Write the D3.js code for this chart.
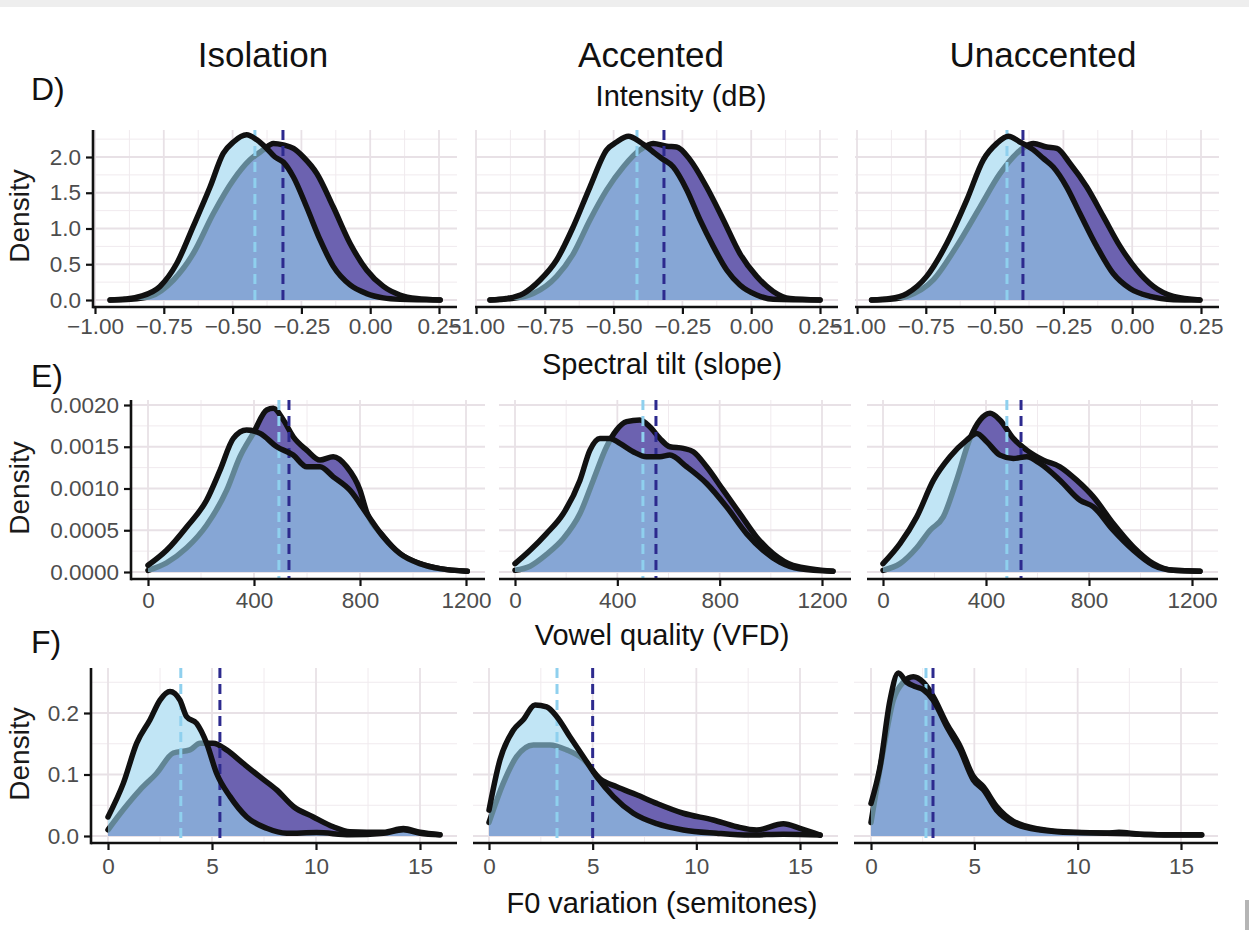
<!DOCTYPE html>
<html><head><meta charset="utf-8">
<script src="https://cdn.jsdelivr.net/npm/d3@7"></script>
<style>html,body{margin:0;padding:0;background:#fff;}svg{display:block;}</style>
</head><body>
<script>
// ---------- DATA ----------
const contexts = ["Isolation", "Accented", "Unaccented"];
const rowTags = ["D)", "E)", "F)"];
const rowTopTitles = ["Intensity (dB)", "Spectral tilt (slope)", "Vowel quality (VFD)"];
const bottomTitle = "F0 variation (semitones)";
const yTitle = "Density";

// Row D: spectral tilt densities (L = light group, P = purple group)
const tiltIsoL = [[-0.945,0],[-0.89,0.015],[-0.836,0.05],[-0.764,0.19],[-0.703,0.51],[-0.643,1.03],[-0.582,1.58],[-0.534,2.05],[-0.497,2.21],[-0.449,2.31],[-0.412,2.24],[-0.376,2.12],[-0.346,2.0],[-0.316,1.93],[-0.279,1.72],[-0.231,1.30],[-0.182,0.84],[-0.134,0.47],[-0.073,0.21],[-0.013,0.09],[0.048,0.03],[0.108,0.01],[0.254,0]];
const tiltIsoP = [[-0.945,0],[-0.87,0.01],[-0.8,0.05],[-0.715,0.28],[-0.643,0.65],[-0.57,1.21],[-0.497,1.68],[-0.437,1.96],[-0.388,2.10],[-0.352,2.19],[-0.316,2.17],[-0.279,2.12],[-0.243,2.0],[-0.194,1.77],[-0.134,1.30],[-0.073,0.79],[-0.013,0.42],[0.048,0.19],[0.108,0.07],[0.169,0.02],[0.254,0]];
const tiltAccL = [[-0.949,0],[-0.89,0.02],[-0.828,0.09],[-0.767,0.28],[-0.707,0.56],[-0.646,1.03],[-0.586,1.58],[-0.525,2.10],[-0.489,2.21],[-0.446,2.29],[-0.404,2.21],[-0.356,2.07],[-0.325,1.98],[-0.283,1.86],[-0.234,1.54],[-0.186,1.12],[-0.138,0.75],[-0.089,0.42],[-0.041,0.21],[0.02,0.07],[0.08,0.01],[0.25,0]];
const tiltAccP = [[-0.949,0],[-0.87,0.02],[-0.792,0.09],[-0.707,0.33],[-0.646,0.65],[-0.586,1.12],[-0.525,1.54],[-0.465,1.86],[-0.404,2.10],[-0.356,2.19],[-0.307,2.15],[-0.271,2.14],[-0.222,1.96],[-0.162,1.58],[-0.101,1.12],[-0.041,0.65],[0.02,0.33],[0.08,0.12],[0.141,0.02],[0.25,0]];
const tiltUnaccL = [[-0.947,0],[-0.88,0.02],[-0.819,0.09],[-0.747,0.33],[-0.674,0.79],[-0.601,1.40],[-0.541,1.96],[-0.492,2.19],[-0.45,2.29],[-0.408,2.21],[-0.359,2.10],[-0.323,1.98],[-0.287,1.86],[-0.238,1.58],[-0.19,1.21],[-0.129,0.75],[-0.069,0.37],[-0.008,0.16],[0.065,0.05],[0.15,0.005],[0.246,0]];
const tiltUnaccP = [[-0.947,0],[-0.88,0.01],[-0.819,0.05],[-0.723,0.28],[-0.638,0.75],[-0.553,1.30],[-0.48,1.77],[-0.42,2.05],[-0.359,2.19],[-0.311,2.14],[-0.274,2.12],[-0.226,1.91],[-0.165,1.58],[-0.105,1.17],[-0.044,0.75],[0.017,0.42],[0.077,0.19],[0.15,0.05],[0.246,0]];

// Row E: vowel formant distance densities
const vfdIsoL = [[0,0.00008],[70,0.00026],[146,0.00054],[221,0.00086],[272,0.00122],[322,0.0016],[372,0.0017],[423,0.00166],[486,0.0015],[548,0.0014],[599,0.00126],[649,0.00126],[699,0.00114],[762,0.00098],[825,0.0007],[888,0.00042],[951,0.00022],[1026,0.0001],[1102,0.00004],[1205,0.00001]];
const vfdIsoP = [[0,0.00002],[70,0.00011],[146,0.00029],[221,0.00056],[297,0.00098],[347,0.00138],[397,0.00166],[448,0.00194],[473,0.00196],[511,0.00182],[548,0.00162],[599,0.00146],[649,0.00134],[699,0.00138],[750,0.00126],[800,0.00098],[825,0.00072],[888,0.00043],[951,0.00022],[1026,0.0001],[1102,0.00004],[1205,0.00001]];
const vfdAccL = [[0,0.0001],[59,0.00026],[123,0.00046],[189,0.0007],[254,0.0011],[293,0.00146],[332,0.0016],[371,0.0016],[410,0.00154],[462,0.00144],[514,0.00138],[566,0.00138],[605,0.0014],[671,0.00126],[749,0.00106],[827,0.00078],[905,0.00046],[970,0.00026],[1035,0.00012],[1113,0.00004],[1243,0.00001]];
const vfdAccP = [[0,0.00002],[59,0.00007],[123,0.00021],[189,0.0004],[254,0.0007],[306,0.0011],[358,0.0015],[397,0.0017],[436,0.0018],[488,0.00182],[527,0.00174],[566,0.0016],[605,0.0015],[658,0.00148],[697,0.00144],[749,0.00126],[814,0.00098],[879,0.0007],[944,0.00042],[1009,0.00022],[1087,0.00008],[1243,0.00001]];
const vfdUnaccL = [[0,0.0001],[66,0.00034],[131,0.00066],[196,0.0011],[260,0.00138],[325,0.00158],[364,0.00166],[403,0.00156],[454,0.0014],[506,0.00136],[558,0.00138],[610,0.0013],[687,0.0011],[765,0.00086],[817,0.00078],[894,0.0005],[972,0.00026],[1050,0.00008],[1128,0.00002],[1231,0.00001]];
const vfdUnaccP = [[0,0.00002],[66,0.0001],[131,0.00029],[183,0.0005],[234,0.00066],[286,0.0011],[338,0.0016],[377,0.00182],[416,0.0019],[454,0.00182],[506,0.0016],[558,0.00146],[623,0.00134],[687,0.00126],[752,0.0011],[817,0.0009],[894,0.00058],[972,0.0003],[1050,0.0001],[1128,0.00002],[1231,0.00001]];

// Row F: F0 variation densities
const f0IsoL = [[0,0.031],[0.74,0.086],[1.38,0.151],[2.02,0.189],[2.5,0.221],[2.98,0.235],[3.46,0.221],[3.78,0.194],[4.26,0.183],[4.74,0.151],[5.22,0.102],[5.87,0.064],[6.67,0.031],[7.63,0.0125],[8.59,0.0045],[10.03,0.0055],[11.63,0.002],[13.24,0.0045],[14.2,0.01],[15.0,0.0045],[15.96,0.002]];
const f0IsoP = [[0,0.01],[0.74,0.043],[1.54,0.075],[2.34,0.102],[3.14,0.135],[3.94,0.14],[4.42,0.151],[5.06,0.151],[5.7,0.14],[6.5,0.118],[7.31,0.096],[8.11,0.075],[8.91,0.048],[9.87,0.031],[10.83,0.015],[11.63,0.007],[13.24,0.006],[14.2,0.012],[15.0,0.006],[15.96,0.002]];
const f0AccL = [[0,0.042],[0.53,0.124],[1.17,0.172],[1.65,0.189],[2.22,0.213],[2.78,0.21],[3.27,0.194],[3.91,0.161],[4.55,0.129],[5.2,0.096],[6.0,0.064],[6.96,0.037],[8.09,0.02],[9.37,0.0098],[10.98,0.0045],[12.59,0.0015],[14.2,0.003],[15.97,0.0015]];
const f0AccP = [[0,0.022],[0.69,0.086],[1.33,0.129],[2.14,0.148],[2.94,0.148],[3.75,0.14],[4.55,0.125],[5.36,0.093],[6.16,0.08],[7.12,0.067],[8.09,0.053],[9.37,0.037],[10.82,0.026],[11.95,0.015],[12.91,0.0098],[14.2,0.02],[15.0,0.0125],[15.97,0.0015]];
const f0UnaccL = [[0,0.053],[0.44,0.113],[0.92,0.221],[1.32,0.265],[1.73,0.25],[2.13,0.243],[2.53,0.238],[3.01,0.221],[3.66,0.178],[4.31,0.14],[4.95,0.091],[5.44,0.075],[6.08,0.042],[6.89,0.021],[8.18,0.0098],[9.79,0.0055],[11.4,0.0045],[13.01,0.003],[14.63,0.0015],[16,0.0015]];
const f0UnaccP = [[0,0.022],[0.6,0.14],[1.08,0.221],[1.56,0.25],[2.05,0.259],[2.53,0.25],[3.01,0.227],[3.66,0.183],[4.31,0.146],[4.95,0.097],[5.44,0.08],[6.08,0.048],[6.89,0.024],[8.18,0.011],[9.79,0.006],[11.4,0.005],[12.0,0.006],[13.01,0.003],[14.63,0.002],[16,0.002]];

// Group means (dashed lines), per context
const tiltMeansL = [-0.419, -0.415, -0.455];
const tiltMeansP = [-0.317, -0.317, -0.397];
const vfdMeansL = [494, 500, 481];
const vfdMeansP = [532, 551, 536];
const f0MeansL = [3.5, 3.28, 2.66];
const f0MeansP = [5.38, 5.0, 3.0];

// Tick values
const tiltXTicks = [-1, -0.75, -0.5, -0.25, 0, 0.25];
const tiltYTicks = [0, 0.5, 1.0, 1.5, 2.0];
const vfdXTicks = [0, 400, 800, 1200];
const vfdYTicks = [0, 0.0005, 0.001, 0.0015, 0.002];
const f0XTicks = [0, 5, 10, 15];
const f0YTicks = [0, 0.1, 0.2];

// ---------- LAYOUT ----------
const W = 1249, H = 930;
const FONT = "'Liberation Sans', Arial, Helvetica, sans-serif";
const rows = [
  { curvesL: [tiltIsoL, tiltAccL, tiltUnaccL], curvesP: [tiltIsoP, tiltAccP, tiltUnaccP],
    meansL: tiltMeansL, meansP: tiltMeansP, xTicks: tiltXTicks, yTicks: tiltYTicks,
    xFmt: d3.format(".2f"), yFmt: d3.format(".1f"),
    top: 130, bottom: 307, yRef: [[0, 300], [2.0, 157]], xRef: [-1, 0.25],
    panels: [[93, 457, 95, 439], [475, 838, 476, 820], [855, 1219, 857, 1201]],
    xPad: 4, densityY: 216 },
  { curvesL: [vfdIsoL, vfdAccL, vfdUnaccL], curvesP: [vfdIsoP, vfdAccP, vfdUnaccP],
    meansL: vfdMeansL, meansP: vfdMeansP, xTicks: vfdXTicks, yTicks: vfdYTicks,
    xFmt: d3.format("d"), yFmt: d3.format(".4f"),
    top: 400, bottom: 579, yRef: [[0, 572], [0.002, 405]], xRef: [0, 1200],
    panels: [[131, 485, 148, 466], [499, 851, 515, 822], [867, 1218, 883, 1192]],
    xPad: 6, densityY: 488 },
  { curvesL: [f0IsoL, f0AccL, f0UnaccL], curvesP: [f0IsoP, f0AccP, f0UnaccP],
    meansL: f0MeansL, meansP: f0MeansP, xTicks: f0XTicks, yTicks: f0YTicks,
    xFmt: d3.format("d"), yFmt: d3.format(".1f"),
    top: 668, bottom: 843, yRef: [[0, 836], [0.2, 713]], xRef: [0, 15],
    panels: [[91, 457, 108, 420], [473, 838, 489, 800], [854, 1218, 871, 1181]],
    xPad: 8, densityY: 754 }
];

const svg = d3.select("body").append("svg").attr("width", W).attr("height", H)
  .style("font-family", FONT);

svg.append("rect").attr("width", W).attr("height", H).attr("fill", "#fff");
svg.append("rect").attr("x", 0).attr("y", 0).attr("width", W).attr("height", 7).attr("fill", "#eeeeee");
svg.append("rect").attr("x", 1245).attr("y", 900).attr("width", 4).attr("height", 30).attr("fill", "#b5b5b5");

// Column titles
const titleX = [263, 651, 1043];
contexts.forEach((c, i) => {
  svg.append("text").attr("x", titleX[i]).attr("y", 67).attr("text-anchor", "middle")
    .attr("font-size", 35).attr("fill", "#111").text(c);
});

// Row tags and titles
const tagY = [100, 387, 653];
rowTags.forEach((t, i) => {
  svg.append("text").attr("x", 31).attr("y", tagY[i]).attr("font-size", 32).attr("fill", "#111").text(t);
});
const rowTitleY = [106, 374, 645];
rowTopTitles.forEach((t, i) => {
  svg.append("text").attr("x", i === 0 ? 681 : 662).attr("y", rowTitleY[i]).attr("text-anchor", "middle")
    .attr("font-size", 29).attr("fill", "#111").text(t);
});
svg.append("text").attr("x", 662).attr("y", 913).attr("text-anchor", "middle")
  .attr("font-size", 29).attr("fill", "#111").text(bottomTitle);

const minorBetween = ticks => {
  const step = ticks[1] - ticks[0];
  const out = [];
  for (let k = -2; k < ticks.length + 2; k++) out.push(ticks[0] + (k + 0.5) * step);
  return out;
};
const extendTicks = ticks => {
  const step = ticks[1] - ticks[0];
  const out = [];
  for (let k = -2; k < ticks.length + 2; k++) out.push(ticks[0] + k * step);
  return out;
};

rows.forEach((row, ri) => {
  const y = d3.scaleLinear().domain([row.yRef[0][0], row.yRef[1][0]]).range([row.yRef[0][1], row.yRef[1][1]]);
  // y title
  svg.append("text")
    .attr("transform", `translate(29,${row.densityY}) rotate(-90)`)
    .attr("text-anchor", "middle").attr("font-size", 28).attr("fill", "#1a1a1a").text(yTitle);

  row.panels.forEach((pn, pi) => {
    const [l, r, p0, p1] = pn;
    const x = d3.scaleLinear().domain(row.xRef).range([p0, p1]);
    const g = svg.append("g");
    const inX = v => x(v) >= l - 0.5 && x(v) <= r + 0.5;
    const inY = v => y(v) <= row.bottom + 0.5 && y(v) >= row.top - 0.5;

    // grid
    minorBetween(row.xTicks).filter(inX).forEach(v => {
      g.append("line").attr("x1", x(v)).attr("x2", x(v)).attr("y1", row.top).attr("y2", row.bottom)
        .attr("stroke", "#f0eaee").attr("stroke-width", 1);
    });
    minorBetween(row.yTicks).filter(inY).forEach(v => {
      g.append("line").attr("x1", l).attr("x2", r).attr("y1", y(v)).attr("y2", y(v))
        .attr("stroke", "#f0eaee").attr("stroke-width", 1);
    });
    extendTicks(row.xTicks).filter(inX).forEach(v => {
      g.append("line").attr("x1", x(v)).attr("x2", x(v)).attr("y1", row.top).attr("y2", row.bottom)
        .attr("stroke", "#e8e1e6").attr("stroke-width", 1.8);
    });
    extendTicks(row.yTicks).filter(inY).forEach(v => {
      g.append("line").attr("x1", l).attr("x2", r).attr("y1", y(v)).attr("y2", y(v))
        .attr("stroke", "#e8e1e6").attr("stroke-width", 1.8);
    });

    const area = d3.area().x(d => x(d[0])).y0(y(0)).y1(d => y(d[1])).curve(d3.curveMonotoneX);
    const line = d3.line().x(d => x(d[0])).y(d => y(d[1])).curve(d3.curveMonotoneX);
    const L = row.curvesL[pi], P = row.curvesP[pi];

    g.append("path").attr("d", area(L)).attr("fill", "#fff");
    g.append("path").attr("d", area(P)).attr("fill", "#6c62b0");
    g.append("path").attr("d", line(P)).attr("fill", "none").attr("stroke", "#111")
      .attr("stroke-width", 5.5).attr("stroke-linejoin", "round").attr("stroke-linecap", "round");
    g.append("path").attr("d", area(L)).attr("fill", "rgb(152,212,238)").attr("fill-opacity", 0.6);

    // mean lines
    g.append("line").attr("x1", x(row.meansL[pi])).attr("x2", x(row.meansL[pi]))
      .attr("y1", row.top).attr("y2", row.bottom)
      .attr("stroke", "#8fd0ee").attr("stroke-width", 3).attr("stroke-dasharray", "10,6");
    g.append("line").attr("x1", x(row.meansP[pi])).attr("x2", x(row.meansP[pi]))
      .attr("y1", row.top).attr("y2", row.bottom)
      .attr("stroke", "#2d2a8e").attr("stroke-width", 3).attr("stroke-dasharray", "10,6");

    g.append("path").attr("d", line(L)).attr("fill", "none").attr("stroke", "#111")
      .attr("stroke-width", 5.5).attr("stroke-linejoin", "round").attr("stroke-linecap", "round");

    // x axis
    const ax = g.append("g").attr("transform", `translate(0,${row.bottom})`)
      .call(d3.axisBottom(x).tickValues(row.xTicks).tickFormat(row.xFmt).tickSize(7).tickPadding(row.xPad));
    ax.select(".domain").remove();
    ax.selectAll(".tick line").attr("stroke", "#111").attr("stroke-width", 2.2);
    ax.selectAll(".tick text").attr("fill", "#4d4d4d").attr("font-size", 22.5).attr("font-family", FONT);
    g.append("line").attr("x1", l).attr("x2", r).attr("y1", row.bottom).attr("y2", row.bottom)
      .attr("stroke", "#111").attr("stroke-width", 2.6);

    if (pi === 0) {
      const ay = g.append("g").attr("transform", `translate(${l},0)`)
        .call(d3.axisLeft(y).tickValues(row.yTicks).tickFormat(row.yFmt).tickSize(7).tickPadding(5));
      ay.select(".domain").remove();
      ay.selectAll(".tick line").attr("stroke", "#111").attr("stroke-width", 2.2);
      ay.selectAll(".tick text").attr("fill", "#4d4d4d").attr("font-size", 22.5).attr("font-family", FONT);
      g.append("line").attr("x1", l).attr("x2", l).attr("y1", row.top).attr("y2", row.bottom + 1.3)
        .attr("stroke", "#111").attr("stroke-width", 2.6);
    }
  });
});
</script>
</body></html>
